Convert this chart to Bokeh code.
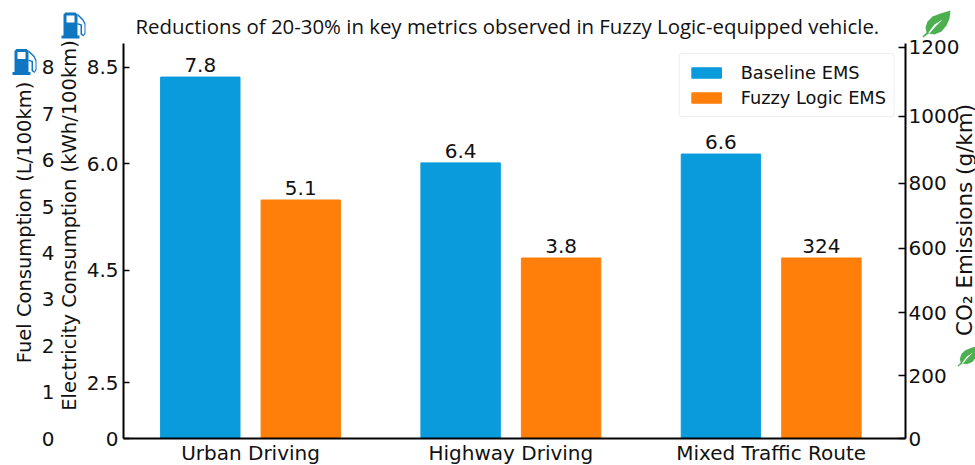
from bokeh.plotting import figure
from bokeh.embed import file_html
from bokeh.layouts import column
from bokeh.resources import INLINE
from bokeh.models import (Range1d, LinearAxis, FixedTicker, Legend, LegendItem, ColumnDataSource)
from bokeh.core.properties import value

categories = ["Urban Driving", "Highway Driving", "Mixed Traffic Route"]
category_pos = [0, 1, 2]
baseline_heights = [7.79, 5.94, 6.13]
fuzzy_heights = [5.14, 3.89, 3.89]
baseline_labels = ["7.8", "6.4", "6.6"]
fuzzy_labels = ["5.1", "3.8", "324"]

fuel_ticks = [0, 1, 2, 3, 4, 5, 6, 7, 8]
elec_tick_pos = [0, 1.2, 3.63, 5.92, 8.0]
elec_tick_labels = ["0", "2.5", "4.5", "6.0", "8.5"]
co2_tick_pos = [0, 1.35, 2.71, 4.1, 5.5, 6.95, 8.43]
co2_tick_labels = ["0", "200", "400", "600", "800", "1000", "1200"]

BLUE = "#0a9bdc"
ORANGE = "#ff7f0a"
FONT = "DejaVu Sans"
FS = "20px"
FL = "19.5px"
Y_MAX = 8.513
NB = "\u00a0"

p = figure(width=975, height=465, frame_width=782, frame_height=395, frame_align=False,
           output_backend="svg", toolbar_location=None,
           x_range=Range1d(-0.488, 2.516), y_range=Range1d(0, Y_MAX),
           min_border_left=123, min_border_right=70, min_border_top=43, min_border_bottom=26)
p.xgrid.visible = False
p.ygrid.visible = False
p.outline_line_color = None
p.yaxis.visible = False

# title
p.title.text = "Reductions of 20-30% in key metrics observed in Fuzzy Logic-equipped vehicle."
p.title.text_font = "Open Sans"
p.title.text_font_size = "20.4px"
p.title.text_font_style = "normal"
p.title.text_color = "#111111"
p.title.align = "left"
p.title.offset = 12
p.title.standoff = 7

# bars
offset, bar_w = 0.193, 0.305
src_a = ColumnDataSource(dict(x=[c - offset for c in category_pos], top=baseline_heights, t=baseline_labels))
src_b = ColumnDataSource(dict(x=[c + offset for c in category_pos], top=fuzzy_heights, t=fuzzy_labels))
r_a = p.vbar(x="x", top="top", width=bar_w, color=BLUE, source=src_a)
r_b = p.vbar(x="x", top="top", width=bar_w, color=ORANGE, source=src_b)
for s in (src_a, src_b):
    p.text(x="x", y="top", text="t", source=s, text_align="center", text_baseline="bottom",
           y_offset=-5, text_font=value(FONT), text_font_size=value(FS), text_color="#111111")

# legend
legend = Legend(items=[LegendItem(label="Baseline EMS", renderers=[r_a]),
                       LegendItem(label="Fuzzy Logic EMS", renderers=[r_b])],
                location="top_right", margin=10, padding=8, spacing=4,
                glyph_width=37, glyph_height=13, label_standoff=16,
                label_text_font=FONT, label_text_font_size="17.8px", label_text_color="#111111",
                border_line_color="#dddddd", border_line_width=1.5, border_radius=4,
                background_fill_alpha=0.85)
p.add_layout(legend)

def style(ax):
    ax.axis_line_color = "black"
    ax.axis_line_width = 2
    ax.major_tick_line_color = "black"
    ax.major_tick_line_width = 1.5
    ax.minor_tick_line_color = None
    ax.major_label_text_font = FONT
    ax.major_label_text_font_size = FS
    ax.major_label_text_color = "#111111"

def label_axis(text, standoff, orientation="vertical", align="center", size=FL):
    """An axis that only carries a title."""
    return LinearAxis(ticker=FixedTicker(ticks=[]), axis_line_color=None, major_tick_line_color=None,
                      minor_tick_line_color=None, major_tick_in=0, major_tick_out=0,
                      major_label_text_font_size="0px", major_label_standoff=0,
                      axis_label=text, axis_label_standoff=standoff, axis_label_align=align,
                      axis_label_orientation=orientation,
                      axis_label_text_font=FONT, axis_label_text_font_size=size,
                      axis_label_text_font_style="normal", axis_label_text_color="#111111")

# bottom axis
p.xaxis.ticker = FixedTicker(ticks=category_pos)
p.xaxis.major_label_overrides = dict(zip(category_pos, categories))
style(p.xaxis[0])
p.xaxis.major_tick_line_color = None
p.xaxis.major_tick_in = 0
p.xaxis.major_tick_out = 0
p.xaxis.major_label_standoff = 2

# inner left axis (electricity)
inner = LinearAxis(ticker=FixedTicker(ticks=elec_tick_pos),
                   major_label_overrides=dict(zip(elec_tick_pos, elec_tick_labels)))
style(inner)
inner.major_tick_in = 6
inner.major_tick_out = 0
inner.major_label_standoff = 5
p.add_layout(inner, "left")
p.add_layout(label_axis(NB * 5 + "Electricity Consumption (kWh/100km)", 3), "left")

# outer left axis (fuel)
outer = LinearAxis(ticker=FixedTicker(ticks=fuel_ticks))
style(outer)
outer.axis_line_color = None
outer.major_tick_line_color = None
outer.major_tick_in = 0
outer.major_tick_out = 0
outer.major_label_standoff = 0
p.add_layout(outer, "left")
p.add_layout(label_axis(NB * 6 + "Fuel Consumption (L/100km)", 3), "left")

# right axis (CO2)
right = LinearAxis(ticker=FixedTicker(ticks=co2_tick_pos),
                   major_label_overrides=dict(zip(co2_tick_pos, co2_tick_labels)))
style(right)
right.major_tick_in = 7
right.major_tick_out = 0
right.major_label_standoff = 3
p.add_layout(right, "right")
p.add_layout(label_axis(NB * 15 + "CO\u2082 Emissions (g/km)", 2, orientation=1.5708, align="start", size="21.5px"), "right")

# icons: a transparent layer laid over the chart, whose scale is the page's pixels
icons = figure(width=975, height=465, output_backend="svg", toolbar_location=None, frame_align=False,
               x_range=Range1d(0, 975), y_range=Range1d(465, 0), x_axis_location=None, y_axis_location=None,
               min_border=0, margin=(-465, 0, 0, 0), outline_line_color=None,
               background_fill_color=None, border_fill_color=None)
icons.grid.visible = False

def poly(pts, ox, oy, color, s=1.0):
    icons.patch([ox + s * a for a, b in pts], [oy + s * b for a, b in pts], fill_color=color, line_color=None)

PUMP = "#0f76c2"
body = [(2, 3), (4, 1), (14, 1), (16, 3), (16, 24), (18, 24), (18, 27), (0, 27), (0, 24), (2, 24)]
window = [(5, 4), (13, 4), (13, 11), (5, 11)]
hose = [(16, 2), (22, 8), (24, 12), (24, 22), (22, 25), (19, 23), (19, 14), (16, 13),
        (16, 11.5), (20.5, 13), (20.5, 22), (22, 23.5), (23, 21), (23, 13), (21, 9), (16, 4)]
for ox, oy in ((61, 9), (12, 45.5)):
    poly(body, ox, oy, PUMP)
    poly(window, ox, oy, "white")
    poly(hose, ox, oy, PUMP)

LEAF = "#4caf50"
leaf = [(28, 0), (18, 3), (10, 6), (5, 11), (3, 17), (4, 22), (0, 26), (1, 27), (6, 23),
        (12, 24), (19, 21), (24, 15), (27, 8)]
vein = [(6, 22), (12, 14), (20, 9), (13, 16), (7, 23)]
for ox, oy, s in ((922, 8, 1.0), (957, 343, 0.78)):
    poly(leaf, ox, oy, LEAF, s)
    poly(vein, ox, oy, "white", s)

open("out.html", "w").write(file_html(column(p, icons), INLINE))
